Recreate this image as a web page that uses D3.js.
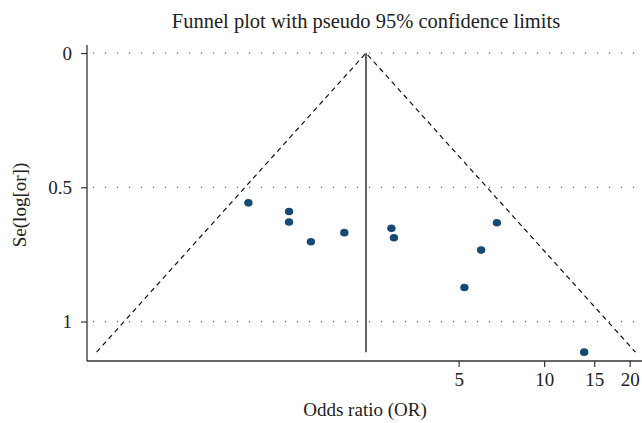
<!DOCTYPE html>
<html>
<head>
<meta charset="utf-8">
<script src="https://cdn.jsdelivr.net/npm/d3@7"></script>
<style>
  body { margin: 0; background: #fff; }
  text { font-family: "Liberation Serif", "DejaVu Serif", serif; fill: #222; }
</style>
</head>
<body>
<div id="chart"></div>
<script>
// study estimates
const oddsRatios = [0.91, 1.265, 1.265, 1.51, 1.98, 2.90, 2.96, 6.82, 6.00, 5.24, 13.83];
const stdErrors = [0.558, 0.590, 0.629, 0.703, 0.669, 0.653, 0.688, 0.632, 0.734, 0.873, 1.114];
const pooledOR = 2.36;
const xTicks = [5, 10, 15, 20];
const yTicks = [0, 0.5, 1];

const width = 642;
const height = 423;

const svg = d3.select("#chart")
    .append("svg")
    .attr("width", width)
    .attr("height", height);

// scales
const x = d3.scaleLog().domain([0.246, 22.1]).range([87, 642]);
const y = d3.scaleLinear().domain([-0.03, 1.147]).range([45, 361]);

const studies = oddsRatios.map((or, i) => ({ or: or, se: stdErrors[i] }));
const seMax = d3.max(stdErrors);

// dotted gridlines
svg.append("g")
    .selectAll("line")
    .data(yTicks)
    .enter().append("line")
    .attr("x1", x.range()[0] + 6)
    .attr("x2", width)
    .attr("y1", d => y(d))
    .attr("y2", d => y(d))
    .attr("stroke", "#666")
    .attr("stroke-width", 1.2)
    .attr("stroke-dasharray", "1.2,10.8");

// pseudo 95% limits
const z = 1.96;
const funnel = [
    [pooledOR * Math.exp(-z * seMax), seMax],
    [pooledOR, 0],
    [pooledOR * Math.exp(z * seMax), seMax]
];
svg.append("path")
    .attr("d", d3.line().x(d => x(d[0])).y(d => y(d[1]))(funnel))
    .attr("fill", "none")
    .attr("stroke", "#111")
    .attr("stroke-width", 1.2)
    .attr("stroke-dasharray", "5,4");

// pooled estimate line
svg.append("line")
    .attr("x1", x(pooledOR))
    .attr("x2", x(pooledOR))
    .attr("y1", y(0))
    .attr("y2", y(seMax))
    .attr("stroke", "#111")
    .attr("stroke-width", 1.3);

// axes
const yAxis = svg.append("g")
    .attr("transform", `translate(${x.range()[0]},0)`)
    .call(d3.axisLeft(y).tickValues(yTicks).tickFormat(d3.format("")).tickSize(6).tickPadding(9));

const xAxis = svg.append("g")
    .attr("transform", `translate(0,${y.range()[1]})`)
    .call(d3.axisBottom(x).tickValues(xTicks).tickFormat(d3.format("")).tickSize(6).tickPadding(6));

[xAxis, yAxis].forEach(g => {
    g.select(".domain").attr("stroke", "#333").attr("stroke-width", 1.3);
    g.selectAll(".tick line").attr("stroke", "#333").attr("stroke-width", 1.2);
    g.selectAll(".tick text")
        .attr("font-family", "Liberation Serif, DejaVu Serif, serif")
        .attr("font-size", 19)
        .attr("fill", "#222");
});
// extend the x axis line to the edge, no end tick
xAxis.select(".domain").attr("d", `M${x.range()[0]},0H${width}`);
yAxis.select(".domain").attr("d", `M0,${y.range()[0]}V${y.range()[1]}`);

// study points
svg.append("g")
    .selectAll("ellipse")
    .data(studies)
    .enter().append("ellipse")
    .attr("cx", d => x(d.or))
    .attr("cy", d => y(d.se))
    .attr("rx", 4.2)
    .attr("ry", 3.8)
    .attr("fill", "#174a73");

// title and labels
svg.append("text")
    .attr("x", 366)
    .attr("y", 28)
    .attr("text-anchor", "middle")
    .attr("font-size", 20.5)
    .text("Funnel plot with pseudo 95% confidence limits");

svg.append("text")
    .attr("x", 365)
    .attr("y", 416)
    .attr("text-anchor", "middle")
    .attr("font-size", 19)
    .text("Odds ratio (OR)");

svg.append("text")
    .attr("transform", "translate(26,205) rotate(-90)")
    .attr("text-anchor", "middle")
    .attr("font-size", 19)
    .text("Se(log[or])");
</script>
</body>
</html>
